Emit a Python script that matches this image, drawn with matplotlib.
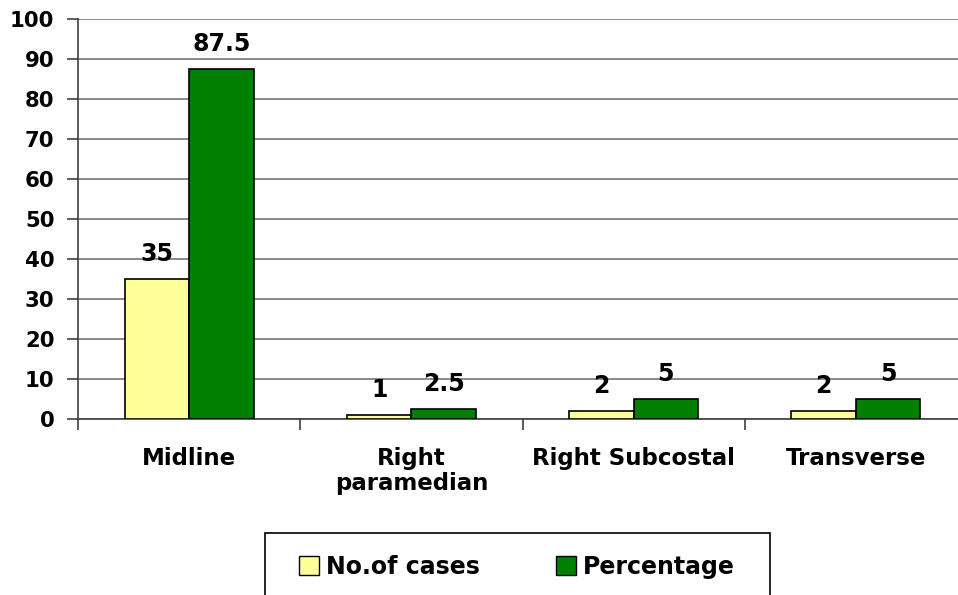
import numpy as np
import matplotlib.pyplot as plt
from matplotlib.patches import Patch, Rectangle

categories = ['Midline', 'Right\nparamedian', 'Right Subcostal', 'Transverse']
cases = [35, 1, 2, 2]
percentage = [87.5, 2.5, 5, 5]
case_labels = ['35', '1', '2', '2']
pct_labels = ['87.5', '2.5', '5', '5']

plt.rcParams['font.family'] = ['DejaVu Sans']
plt.rcParams['font.weight'] = 'bold'

fig = plt.figure(figsize=(9.58, 5.95), dpi=100)
W, H = 958, 595
ax = fig.add_axes([78 / W, 1 - 419 / H, (967 - 78) / W, 400 / H])

x = np.arange(len(categories))
w = 0.29
b1 = ax.bar(x - w / 2, cases, w, color='#ffff99', edgecolor='black', linewidth=1.2, zorder=3)
b2 = ax.bar(x + w / 2, percentage, w, color='#008000', edgecolor='black', linewidth=1.2, zorder=3)

for bars, labs in [(b1, case_labels), (b2, pct_labels)]:
    for rect, lab in zip(bars, labs):
        ax.text(rect.get_x() + rect.get_width() / 2, rect.get_height() + 3.2, lab,
                ha='center', va='bottom', fontsize=17, fontweight='bold', zorder=4)

ax.set_xlim(-0.5, len(categories) - 0.5)
ax.set_ylim(0, 100)
ax.set_yticks(np.arange(0, 101, 10))
ax.yaxis.grid(True, color='#808080', linewidth=1.3, zorder=0)
ax.set_axisbelow(True)
ax.tick_params(axis='y', length=8, width=1.2, color='#404040', labelsize=15.3, pad=9)

# category ticks on boundaries, labels at centres
ax.set_xticks(np.arange(-0.5, len(categories) + 0.5, 1))
ax.set_xticklabels([])
ax.tick_params(axis='x', which='major', length=8, width=1.2, color='#404040')
ax.set_xticks(x, minor=True)
ax.set_xticklabels(categories, minor=True, fontsize=16.5, fontweight='bold', linespacing=1.15)
ax.tick_params(axis='x', which='minor', length=0, pad=20)

for s in ['top', 'right']:
    ax.spines[s].set_visible(False)
for s in ['left', 'bottom']:
    ax.spines[s].set_color('#404040')
    ax.spines[s].set_linewidth(1.2)

# legend frame (bottom runs off the canvas as in the source)
fig.add_artist(Rectangle((265 / W, -0.05), (770 - 265) / W, 0.05 + (595 - 533) / H,
                         transform=fig.transFigure, facecolor='none',
                         edgecolor='black', linewidth=1.2))
handles = [Patch(facecolor='#ffff99', edgecolor='black', label='No.of cases'),
           Patch(facecolor='#008000', edgecolor='black', label='Percentage')]
fig.legend(handles=handles, loc='center', bbox_to_anchor=(517 / W, 1 - 567 / H),
           ncol=2, frameon=False, prop={'size': 17, 'weight': 'bold'},
           handlelength=0.85, handleheight=0.85, handletextpad=0.3,
           columnspacing=3.2, borderpad=0, borderaxespad=0)

fig.savefig('out.png', dpi=100)
